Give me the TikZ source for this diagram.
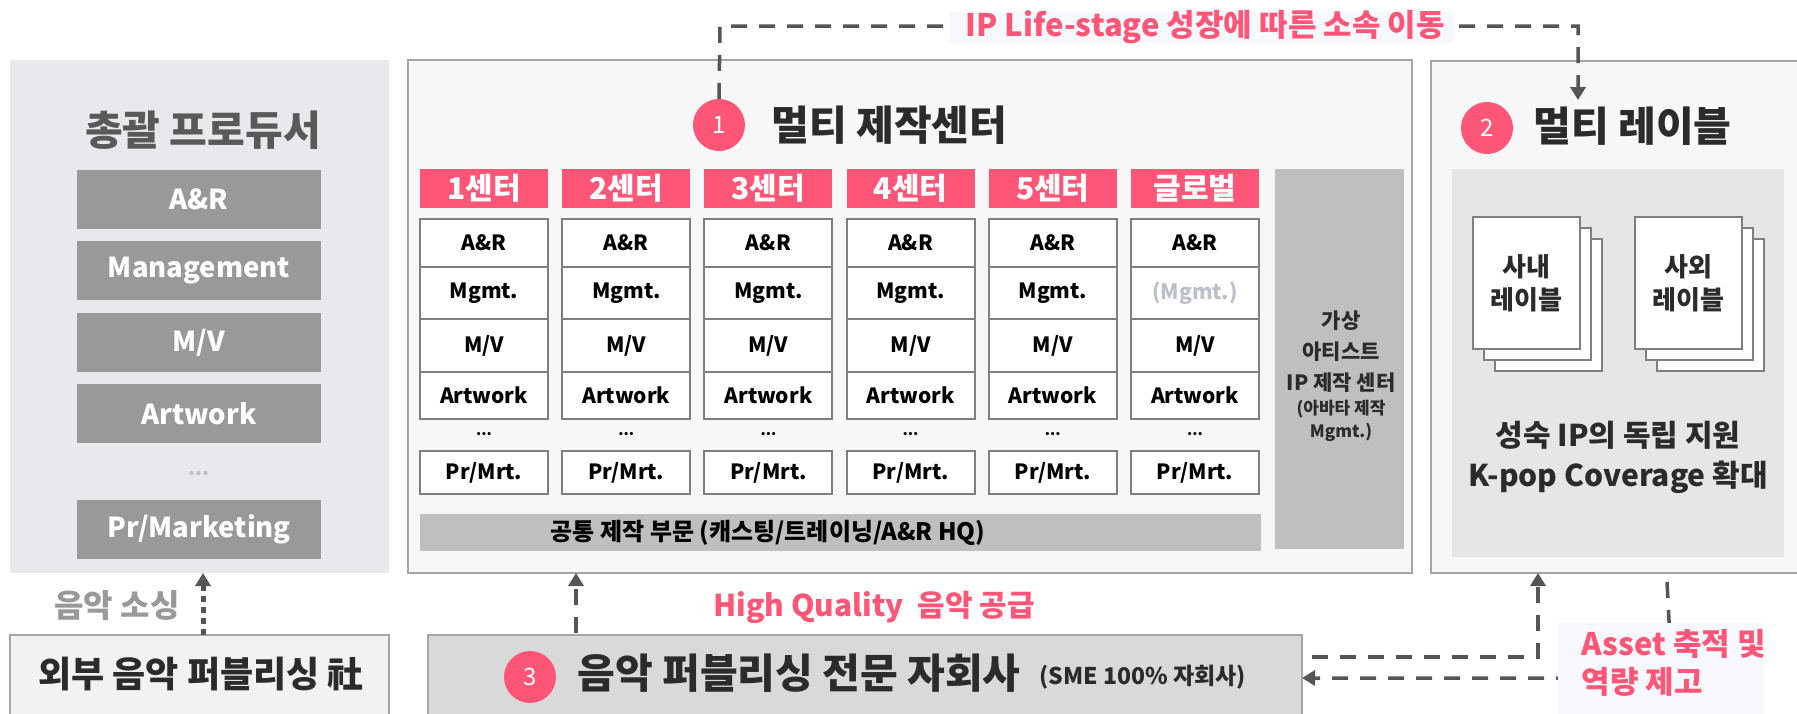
\documentclass[tikz,border=0pt]{standalone}
\usepackage{fontspec}
\setmainfont{Noto Sans CJK KR}
\newfontfamily\cond{Noto Sans CJK KR}[FakeStretch=0.95]
\usetikzlibrary{arrows.meta,calc}
\definecolor{pinkc}{HTML}{FF5577}
\definecolor{leftbg}{HTML}{E8E9ED}
\definecolor{boxgray}{HTML}{999999}
\definecolor{panelbg}{HTML}{F7F7F7}
\definecolor{panelline}{HTML}{A6A6A6}
\definecolor{cellline}{HTML}{7F7F7F}
\definecolor{barg}{HTML}{BFBFBF}
\definecolor{innerg}{HTML}{E6E6E6}
\definecolor{pubg}{HTML}{D9D9D9}
\definecolor{extg}{HTML}{F2F2F2}
\definecolor{dashc}{HTML}{555555}
\definecolor{labbg}{HTML}{F6F8FE}
\definecolor{darkt}{HTML}{2B2B2B}
\definecolor{titleg}{HTML}{595959}
\definecolor{mutet}{HTML}{BCC0C9}
\newcommand\fsz[2]{\fontsize{#1}{#2}\selectfont}
\tikzset{
  rectbox/.style={anchor=north west, inner sep=0pt, outer sep=0pt},
  graybox/.style={rectbox, fill=boxgray, minimum width=244pt, minimum height=59pt,
     text=white, font=\bfseries\fsz{27.5}{30}},
  hdr/.style={rectbox, fill=pinkc, minimum width=128pt, minimum height=39pt,
     text=white, font=\bfseries\fsz{30}{32}},
  cell/.style={rectbox, draw=cellline, line width=2pt, fill=white, minimum width=128pt,
     font=\bfseries\fsz{21}{24}},
  numc/.style={circle, fill=pinkc, minimum size=52pt, inner sep=0pt, text=white, font=\fsz{24}{26}},
  dsh/.style={draw=dashc, line width=3.5pt, dash pattern=on 16pt off 12pt},
  tip/.style={-{Triangle[length=13pt,width=15pt]}},
  pinklab/.style={text=pinkc, font=\bfseries\fsz{31}{38}},
  doc/.style={rectbox, draw=cellline, line width=2pt, fill=white, minimum width=107pt, minimum height=132pt},
}
\begin{document}
\begin{tikzpicture}[x=1pt,y=-1pt]
\useasboundingbox (0,0) rectangle (1797,713);
\fill[white] (0,0) rectangle (1797,713);

% ---------- left panel ----------
\node[rectbox, fill=leftbg, minimum width=379pt, minimum height=513pt] (left) at (10,60) {};
\node[text=titleg, font=\bfseries\fsz{41}{44}] (lefttitle) at (203,130) {총괄 프로듀서};
\node[graybox] (gar) at (77,170) {A\&R};
\node[graybox] (gman) at (77,241) {Management};
\node[graybox] (gmv) at (77,313) {M/V};
\node[graybox] (gart) at (77,384) {Artwork};
\node[text=barg, font=\bfseries\fsz{20}{20}] (gdots) at (199,474) {...};
\node[graybox] (gpr) at (77,500) {Pr/Marketing};

% ---------- middle panel ----------
\node[rectbox, draw=panelline, line width=2pt, fill=panelbg, minimum width=1004pt, minimum height=513pt] (mid) at (408,60) {};
\node[numc] (c1) at (719,125) {1};
\node[anchor=west, text=darkt, font=\bfseries\fsz{41}{44}] (midtitle) at (768,125) {멀티 제작센터};

\foreach \i/\t in {0/1센터,1/2센터,2/3센터,3/4센터,4/5센터,5/글로벌}{
  \pgfmathsetmacro\xx{420+142.2*\i}
  \node[hdr] (h\i) at (\xx,169) {\t};
  \node[cell, minimum height=48pt] (a\i) at (\xx,219) {A\&R};
  \node[cell, minimum height=52pt] (m\i) at (\xx,267) {};
  \node[cell, minimum height=53pt] (v\i) at (\xx,319) {M/V};
  \node[cell, minimum height=47pt] (w\i) at (\xx,372) {Artwork};
  \node[font=\bfseries\fsz{15}{15}] (d\i) at (\xx+64,434) {...};
  \node[cell, minimum height=43pt] (p\i) at (\xx,451) {Pr/Mrt.};
}
\foreach \i in {0,...,4}{ \node[font=\bfseries\fsz{21}{24}] at (m\i) {Mgmt.}; }
\node[font=\bfseries\fsz{21}{24}, text=mutet] (m5t) at (m5) {(Mgmt.)};

\node[rectbox, fill=barg, minimum width=841pt, minimum height=37pt] (common) at (420,514) {};
\node[font=\bfseries\fsz{24}{26}, text=black] (commont) at (768,533) {공통 제작 부문 (캐스팅/트레이닝/A\&R HQ)};

\node[rectbox, fill=barg, minimum width=129pt, minimum height=380pt] (virt) at (1275,169) {};
\node[align=center, text=darkt, font=\bfseries\fsz{21}{31}] (virt1) at (1341,352) {가상\\아티스트\\IP 제작 센터};
\node[align=center, text=darkt, font=\bfseries\fsz{17}{23}] (virt2) at (1341,421) {(아바타 제작\\Mgmt.)};

% ---------- right panel ----------
\node[rectbox, draw=panelline, line width=2pt, fill=panelbg, minimum width=400pt, minimum height=512pt] (right) at (1431,61) {};
\node[numc] (c2) at (1487,128) {2};
\node[anchor=west, text=darkt, font=\bfseries\fsz{41}{44}] (righttitle) at (1530,126) {멀티 레이블};
\node[rectbox, fill=innerg, minimum width=332pt, minimum height=388pt] (inner) at (1452,169) {};

\node[doc] (in3) at (1495,239) {};
\node[doc] (in2) at (1484,228) {};
\node[doc] (in1) at (1473,217) {};
\node[align=center, text=darkt, font=\bfseries\fsz{26}{33}] (int) at (in1) {사내\\레이블};
\node[doc] (out3) at (1657,239) {};
\node[doc] (out2) at (1646,228) {};
\node[doc] (out1) at (1635,217) {};
\node[align=center, text=darkt, font=\bfseries\fsz{26}{33}] (outt) at (out1) {사외\\레이블};
\node[align=center, text=darkt, font=\bfseries\fsz{30}{40}] (grow) at (1618,457) {성숙 IP의 독립 지원\\K-pop Coverage 확대};

% ---------- bottom ----------
\node[rectbox, draw=panelline, line width=2pt, fill=extg, minimum width=379pt, minimum height=100pt] (ext) at (10,635) {};
\node[text=darkt, font=\bfseries\fsz{36}{38}] (extt) at (201,674) {외부 음악 퍼블리싱 社};
\node[text=boxgray, font=\bfseries\fsz{32}{34}] (sourcing) at (117,606) {음악 소싱};

\node[rectbox, draw=panelline, line width=2pt, fill=pubg, minimum width=874pt, minimum height=100pt] (pub) at (428,635) {};
\node[numc] (c3) at (530,677) {3};
\node[anchor=west, text=darkt, font=\bfseries\fsz{41}{44}] (pubt) at (574,673) {음악 퍼블리싱 전문 자회사};
\node[anchor=west, text=darkt, font=\bfseries\fsz{23}{26}] (pubs) at (1036,677) {(SME 100\% 자회사)};

\node[pinklab, font=\bfseries\fsz{30}{36}] (hq) at (874,607) {High Quality\ \ 음악 공급};

% ---------- connectors ----------
\coordinate (ttl) at (720,26);
\coordinate (ttr) at (1578,26);
\coordinate (rtip) at (1578,100);
\draw[dsh, tip] (c1.north) -- (ttl) -- (ttr) -- (rtip);
\node[rectbox, fill=labbg, minimum width=504pt, minimum height=31pt] (toplabbg) at (950,12) {};
\node[pinklab, anchor=west] (toplab) at (962,27) {IP Life-stage 성장에 따른 소속 이동};

\coordinate (srcb) at (203,635);
\draw[draw=dashc, line width=5pt, dash pattern=on 6pt off 5pt, -{Triangle[length=13pt,width=15pt]}] (srcb) -- (srcb |- left.south);

\coordinate (hqb) at (576,633);
\draw[dsh, tip] (hqb) -- (hqb |- mid.south);

\coordinate (ua) at (1312,657);
\coordinate (ub) at (1538,657);
\draw[dsh, tip] (ua) -- (ub) -- (ub |- right.south);

\coordinate (da) at (1667,582);
\coordinate (db) at (1672,678);
\draw[dsh, tip] (da) -- (db) -- (db -| pub.east);

\node[rectbox, fill=labbg, minimum width=205pt, minimum height=95pt] (assetbg) at (1558,623) {};
\node[pinklab, align=left, anchor=north west] (asset) at (1578,626) {Asset 축적 및\\역량 제고};
\end{tikzpicture}
\end{document}
